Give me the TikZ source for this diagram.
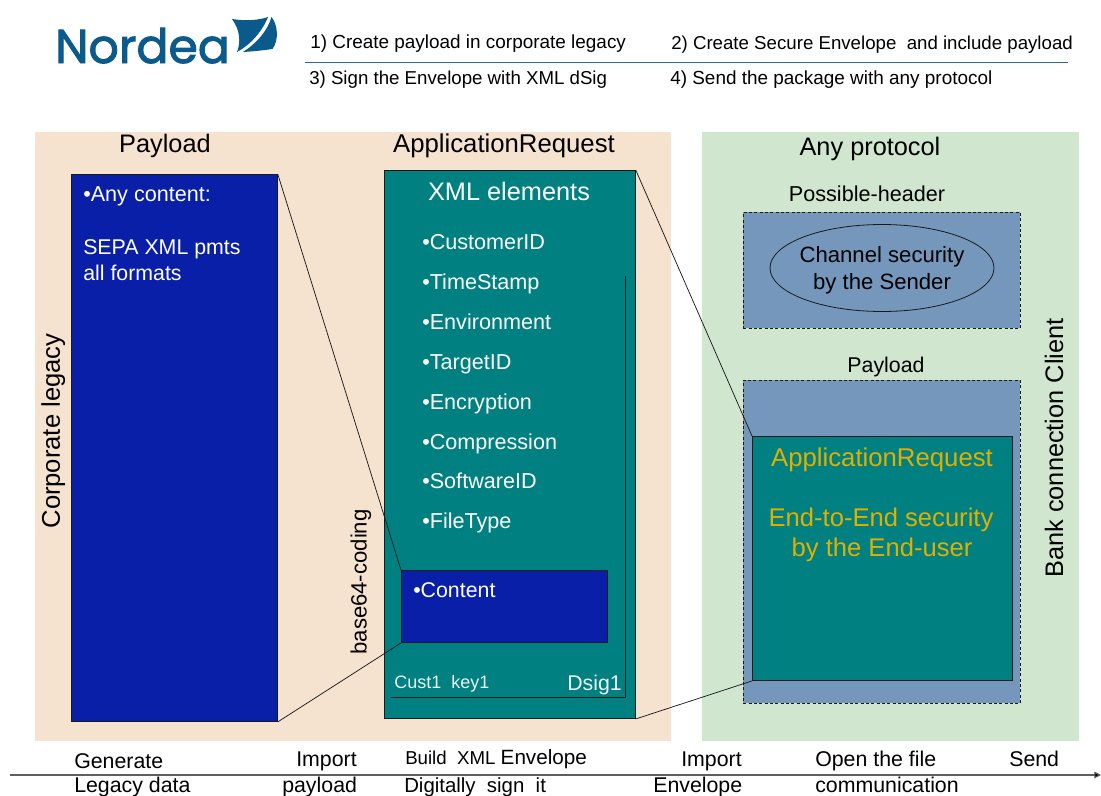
\documentclass[tikz,border=0pt]{standalone}
\usepackage{fontspec}
\setmainfont{Liberation Sans}
\newfontfamily\logofont[FakeBold=2]{Poppins}
\usetikzlibrary{shapes.geometric,arrows.meta}
\definecolor{peach}{HTML}{F5E2CF}
\definecolor{pale}{HTML}{D0E6CF}
\definecolor{navy}{HTML}{0A1FA8}
\definecolor{teal2}{HTML}{008080}
\definecolor{steel}{HTML}{7597BC}
\definecolor{brand}{HTML}{0A5A8C}
\definecolor{rulec}{HTML}{1F6CA6}
\definecolor{gold}{HTML}{E0B000}
\definecolor{ink}{HTML}{1A1A1A}
\newcommand{\fs}[1]{\fontsize{#1}{#1}\selectfont\rule[-0.19em]{0pt}{1.09em}}
\tikzset{
  x=0.75pt,y=-0.75pt,
  panel/.style={draw=none,fill=#1,minimum width=0pt,inner sep=0pt},
  box/.style={draw=ink,line width=0.7pt,inner sep=0pt,anchor=north west},
  dashbox/.style={draw=ink,line width=0.55pt,dashed,dash pattern=on 2.2pt off 1.8pt,fill=steel,inner sep=0pt,anchor=north west},
  lab/.style={inner sep=0pt,anchor=west,text=black},
  wlab/.style={inner sep=0pt,anchor=west,text=white},
  link/.style={draw=ink,line width=0.55pt},
}
\begin{document}
\begin{tikzpicture}
\useasboundingbox (0,0) rectangle (1101,796);
\fill[white] (0,0) rectangle (1101,796);
% background panels
\node[panel=peach,anchor=north west,minimum width=636*0.75pt,minimum height=609*0.75pt] (legacy) at (35,132) {};
\node[panel=pale,anchor=north west,minimum width=377*0.75pt,minimum height=609*0.75pt] (client) at (702,132) {};
% logo
\node[inner sep=0pt,anchor=base west,text=brand] (logo) at (55,63) {\logofont\fontsize{35.5}{36}\selectfont Nordea};
\fill[brand] (232,19) .. controls (245,21) and (258,20.5) .. (268,17) .. controls (262,32) and (250,45) .. (237,52) .. controls (241,42) and (240,30) .. (232,19) -- cycle;
\fill[brand] (271.5,17) .. controls (278,25) and (279,40) .. (272.5,49) .. controls (262,50.5) and (252,51.5) .. (243,52) .. controls (257,43) and (268,30) .. (271.5,17) -- cycle;
% header
\coordinate (ruleL) at (305,62.5);
\coordinate (ruleR) at (1068,62.5);
\draw[color=rulec,line width=1.4pt] (ruleL) -- (ruleR);
\node[lab] (s1) at (310,42) {\fs{14.2}1)\ Create payload in corporate legacy};
\node[lab] (s2) at (671,43) {\fs{14}2)\ Create Secure Envelope\ \ and include payload};
\node[lab] (s3) at (309,78) {\fs{14}3)\ Sign the Envelope with XML dSig};
\node[lab] (s4) at (670,78) {\fs{14.2}4)\ Send the package with any protocol};
% column titles
\node[inner sep=0pt] (t1) at (165,144) {\fs{19}Payload};
\node[inner sep=0pt] (t2) at (504,144) {\fs{19.3}ApplicationRequest};
\node[inner sep=0pt] (t3) at (870,147) {\fs{19}Any protocol};
% payload
\node[box,fill=navy,minimum width=206*0.75pt,minimum height=547*0.75pt] (pay) at (70.8,174) {};
\node[wlab] (p1) at (83,194) {\fs{16.2}•Any content:};
\node[wlab] (p2) at (83,247) {\fs{16}SEPA XML pmts};
\node[wlab] (p3) at (83,273) {\fs{16}all formats};
\node[inner sep=0pt,rotate=90] (corp) at (51,431) {\fs{19.2}Corporate legacy};
% AR
\node[box,fill=teal2,minimum width=251*0.75pt,minimum height=548*0.75pt] (ar) at (383.8,170) {};
\node[inner sep=0pt,text=white] (xml) at (509,192) {\fs{19}XML elements};
\foreach \t/\yy/\nm in {CustomerID/242/a,TimeStamp/282/b,Environment/322/c,TargetID/362/d,Encryption/402/e,Compression/442/f,SoftwareID/481/g,FileType/521/h}{
  \node[wlab] (el\nm) at (422,\yy) {\fs{16.2}•\t};
}
\coordinate (sigT) at (625,276);
\coordinate (sigC) at (625,697);
\coordinate (sigL) at (391,697);
\draw[draw=ink,line width=0.6pt] (sigT) -- (sigC) -- (sigL);
\node[box,fill=navy,minimum width=206*0.75pt,minimum height=72*0.75pt] (content) at (401,570) {};
\node[wlab] (ct) at (413,590) {\fs{16}•Content};
\node[wlab,text=white!92!teal2] (key) at (394,682) {\fs{13.5}Cust1\ \ key1};
\node[wlab,text=white!92!teal2] (dsig) at (567,683) {\fs{16}Dsig1};
\node[inner sep=0pt,rotate=90] (b64) at (359,582) {\fs{16.6}base64-coding};
% right
\node[inner sep=0pt] (ph) at (867,194) {\fs{16.2}Possible-header};
\node[dashbox,minimum width=277*0.75pt,minimum height=116*0.75pt] (hdr) at (743,212) {};
\node[ellipse,draw=ink,line width=0.6pt,minimum width=224*0.75pt,minimum height=87*0.75pt,inner sep=0pt] (chan) at (882,268) {};
\node[inner sep=0pt,align=center] (chanlab) at (chan.center) {\fs{16.6}Channel security\\[1pt]\fs{16.6}by the Sender};
\node[inner sep=0pt] (pl) at (886,365) {\fs{16}Payload};
\node[dashbox,minimum width=277*0.75pt,minimum height=323*0.75pt] (plb) at (743,380) {};
\node[box,fill=teal2,minimum width=260*0.75pt,minimum height=244*0.75pt] (inner) at (752,436) {};
\node[inner sep=0pt,text=gold] (i1) at (882,458) {\fs{19.3}ApplicationRequest};
\node[inner sep=0pt,text=gold] (i2) at (881,518) {\fs{19.2}End-to-End security};
\node[inner sep=0pt,text=gold] (i3) at (882,548) {\fs{19.2}by the End-user};
\node[inner sep=0pt,rotate=90] (bcc) at (1054,448) {\fs{19}Bank connection Client};
% connectors
\draw[link] (pay.north east) -- (content.north west);
\draw[link] (pay.south east) -- (content.south west);
\draw[link] (ar.north east) -- (inner.north west);
\draw[link] (ar.south east) -- (inner.south west);
% timeline
\coordinate (tlA) at (10,775);
\coordinate (tlB) at (1101,775);
\draw[draw=ink!70,line width=0.8pt,-{Triangle[length=5pt,width=5pt,fill=black]}] (tlA) -- (tlB);
\node[lab] (g1) at (74,761) {\fs{16}Generate};
\node[lab] (g2) at (74,785) {\fs{16}Legacy data};
\node[lab] (h1) at (296,759) {\fs{16}Import};
\node[lab] (h2) at (282,785) {\fs{16}payload};
\node[lab] (j1) at (405,757) {\fs{14}Build\ \ XML \fs{15.5}Envelope};
\node[lab] (j2) at (404,785) {\fs{15.3}Digitally\ \ sign\ \ it};
\node[lab] (k1) at (681,759) {\fs{16}Import};
\node[lab] (k2) at (653,785) {\fs{16}Envelope};
\node[lab] (m1) at (815,759) {\fs{16}Open the file};
\node[lab] (m2) at (815,785) {\fs{16}communication};
\node[lab] (n1) at (1009,759) {\fs{16}Send};
\end{tikzpicture}
\end{document}
